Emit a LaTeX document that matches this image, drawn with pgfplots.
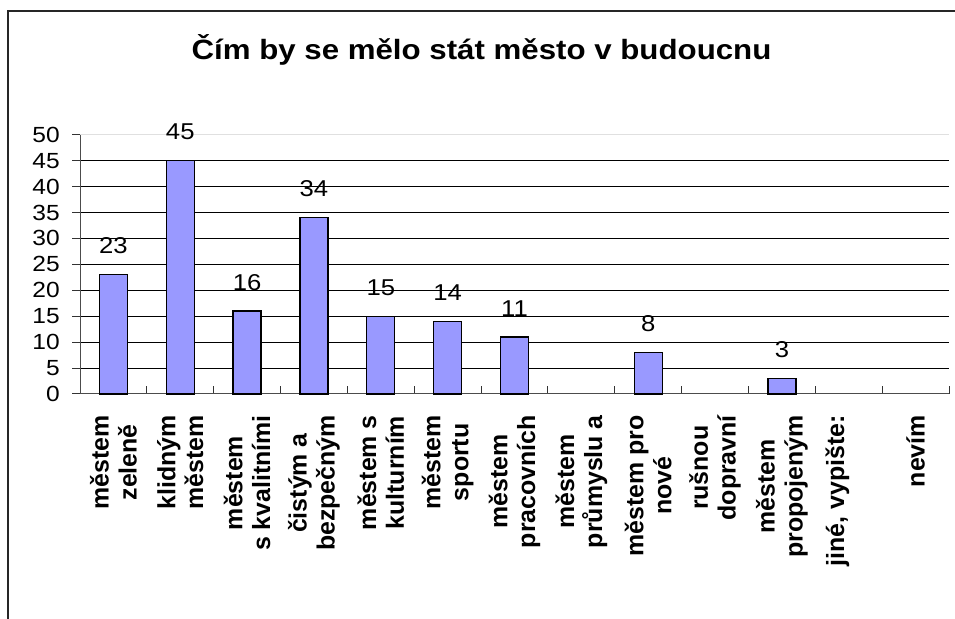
\documentclass[border=0pt]{standalone}
\usepackage{fontspec}
\setmainfont{Liberation Sans}[FakeStretch=1.12]
\newfontfamily\labfont{Liberation Sans}
\usepackage{pgfplots}
\pgfplotsset{compat=1.18}
\definecolor{barblue}{HTML}{9999FF}
\begin{document}
\begin{tikzpicture}[x=1bp,y=1bp]
\path[use as bounding box] (0,0) rectangle (955,619);
\draw[line width=1.5bp, black!85] (8,-5) -- (8,608) -- (960,608);
\node[anchor=base, inner sep=0pt, font=\fontsize{28}{33}\selectfont\bfseries] at (481.5,559.7) {Čím by se mělo stát město v budoucnu};
\begin{axis}[
  at={(80bp,225bp)}, anchor=south west, scale only axis,
  width=869bp, height=259.3bp,
  xmin=-0.5, xmax=12.5, ymin=0, ymax=50,
  /pgf/number format/assume math mode=true,
  ybar, bar width=28bp,
  axis x line*=bottom, axis y line*=left,
  axis line style={-, black!70, line width=1bp},
  tick align=inside,
  major tick length=8bp, minor tick length=8bp,
  xtick={0,...,12},
  minor xtick={-0.5,0.5,...,12.5},
  every major x tick/.append style={draw=none},
  every minor x tick/.append style={black!80, line width=1bp},
  every major y tick/.append style={xshift=-8bp, black!80, line width=1bp},
  ytick={0,5,...,45},
  extra y ticks={50},
  extra y tick style={major grid style={black!12, line width=1bp}},
  ymajorgrids,
  major grid style={black, line width=1bp},
  yticklabel style={anchor=east, inner sep=0pt, font=\fontsize{22}{26}\selectfont},
  yticklabel shift=20bp,
  xticklabel style={rotate=90, anchor=east, align=center, inner sep=0pt,
    font=\labfont\bfseries\fontsize{25}{28}\selectfont},
  xticklabel shift=21bp,
  xticklabels={{městem\\zeleně},{klidným\\městem},{městem\\s kvalitními},{čistým a\\bezpečným},{městem s\\kulturním},{městem\\sportu},{městem\\pracovních},{městem\\průmyslu a},{městem pro\\nové},{rušnou\\dopravní},{městem\\propojeným},{jiné, vypište:\\\mbox{}},{nevím}},
  nodes near coords,
  nodes near coords style={font=\fontsize{23}{27}\selectfont, inner sep=0pt, yshift=20bp},
  clip=false,
]
\addplot[fill=barblue, draw=black, line width=1.3bp] coordinates {(0,23) (1,45) (2,16) (3,34) (4,15) (5,14) (6,11) (8,8) (10,3)};
\end{axis}
\end{tikzpicture}
\end{document}
